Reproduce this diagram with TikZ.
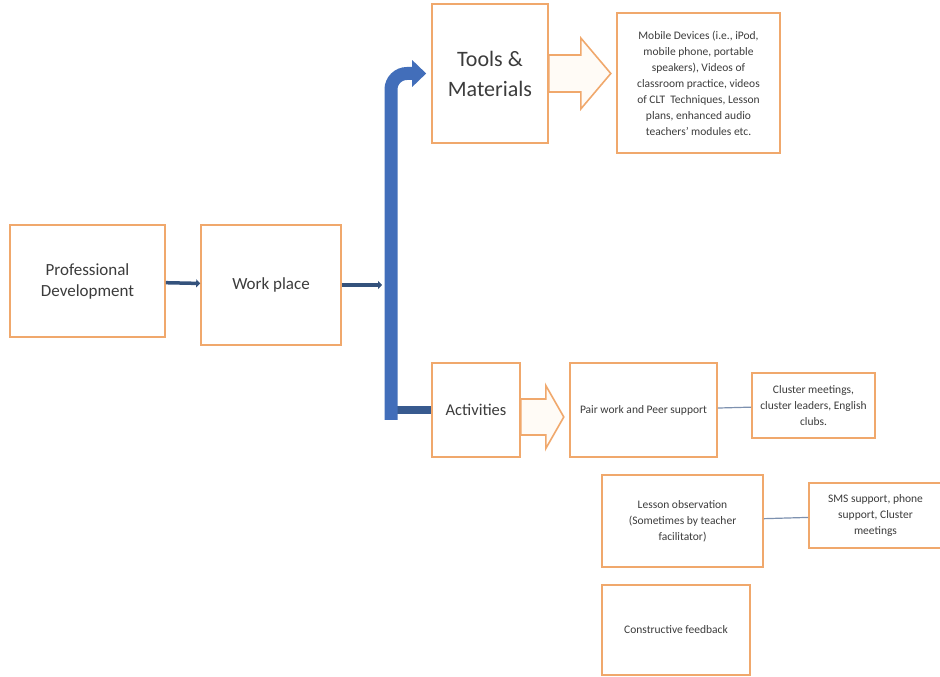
\documentclass[tikz,border=0pt]{standalone}
\usepackage{fontspec}
\setmainfont{Carlito}
\usepackage{tikz}
\usetikzlibrary{arrows,arrows.meta,positioning}
\definecolor{boxline}{RGB}{240,168,108}
\definecolor{arrowfill}{RGB}{255,251,246}
\definecolor{trunkblue}{RGB}{66,110,186}
\definecolor{linkblue}{RGB}{52,82,124}
\definecolor{thinlink}{RGB}{125,145,175}
\definecolor{textgrey}{RGB}{60,60,60}

\begin{document}
\begin{tikzpicture}[
    x=1pt, y=1pt,
    node distance=170pt,
    >={Triangle[length=4pt,width=8pt]},
    box/.style={
		rectangle,
		draw=boxline,
		line width=1.6pt,
		fill=white,
		text=textgrey,
		align=center,
		inner sep=0pt
	},
	big/.style={font=\fontsize{22}{30}\selectfont},
	mid/.style={font=\fontsize{17}{21}\selectfont},
	small/.style={font=\fontsize{11.5}{16}\selectfont},
	link/.style={
		draw=linkblue,
		line width=3.5pt
	},
	thin/.style={
		draw=thinlink,
		line width=1.2pt
	},
	hollow/.style={
		draw=boxline,
		line width=1.6pt,
		fill=arrowfill,
		line join=miter
	}
  ]
  \useasboundingbox (0,0) rectangle (940,677);

    % We start by placing the blocks

  \node [box, mid, minimum width=155pt, minimum height=112pt] (pd) at (87.5,396)
 {Professional\\Development};

  \node [box, mid, minimum width=140pt, minimum height=120pt, right of=pd, xshift=13.5pt, yshift=-4pt] (workplace)
 {Work place};

  \node [box, big, minimum width=116pt, minimum height=139pt, right of=workplace, xshift=49pt, yshift=211.5pt] (tools)
 {Tools \&\\Materials};

  \node [box, font=\fontsize{16.5}{20}\selectfont, minimum width=88pt, minimum height=94pt, right of=workplace, xshift=35pt, yshift=-125pt] (activities)
 {Activities};

  \node [box, small, minimum width=163pt, minimum height=140pt, right of=tools, xshift=38.5pt, yshift=-9.5pt] (devices)
 {%
  Mobile Devices (i.e., iPod,\\
  mobile phone, portable\\
  speakers), Videos of\\
  classroom practice, videos\\
  of CLT\ \ Techniques, Lesson\\
  plans, enhanced audio\\
  teachers’ modules etc.
 };

  \node [box, small, minimum width=147pt, minimum height=94pt, right of=activities, xshift=-2.5pt] (pair)
 {Pair work and Peer support};

  \node [box, small, minimum width=123pt, minimum height=65pt, right of=pair, yshift=4.5pt] (cluster)
 {%
  Cluster meetings,\\
  cluster leaders, English\\
  clubs.
 };

  \node [box, small, minimum width=161pt, minimum height=92pt, below of=pair, xshift=39pt, yshift=59pt] (lesson)
 {%
  Lesson observation\\
  (Sometimes by teacher\\
  facilitator)
 };

  \node [box, small, minimum width=133pt, minimum height=65pt, right of=lesson, xshift=23pt, yshift=5.5pt] (sms)
 {%
  SMS support, phone\\
  support, Cluster\\
  meetings
 };

  \node [box, small, minimum width=148pt, minimum height=90pt, below of=lesson, xshift=-6.5pt, yshift=61pt] (feedback)
 {Constructive feedback};

 % the connectors
 \coordinate (trunk) at (391,257);

 \draw [link,->] (pd) -- (workplace);
 \draw [link,->, shorten >=9pt] (workplace) -- (workplace -| trunk);
 \draw [draw=linkblue!70!trunkblue, line width=8pt] (trunk |- activities.west) -- (activities.west);
 \draw [draw=trunkblue, line width=13pt, rounded corners=16pt, -{Triangle[width=26pt,length=14pt]}, shorten >=5pt] (trunk) |- (tools.west);

 \draw [hollow] (tools.east) ++(0,18.5) -- ++(32,0) -- ++(0,17) -- ++(30,-35.5) -- ++(-30,-35.5) -- ++(0,17) -- ++(-32,0) -- cycle;
 \draw [hollow] (activities.east) ++(0,11) -- ++(25,0) -- ++(0,13.5) -- ++(18,-31.5) -- ++(-18,-31.5) -- ++(0,13.5) -- ++(-25,0) -- cycle;

 \draw [thin] (pair) -- (cluster);
 \draw [thin] (lesson) -- (sms);

\end{tikzpicture}
\end{document}
